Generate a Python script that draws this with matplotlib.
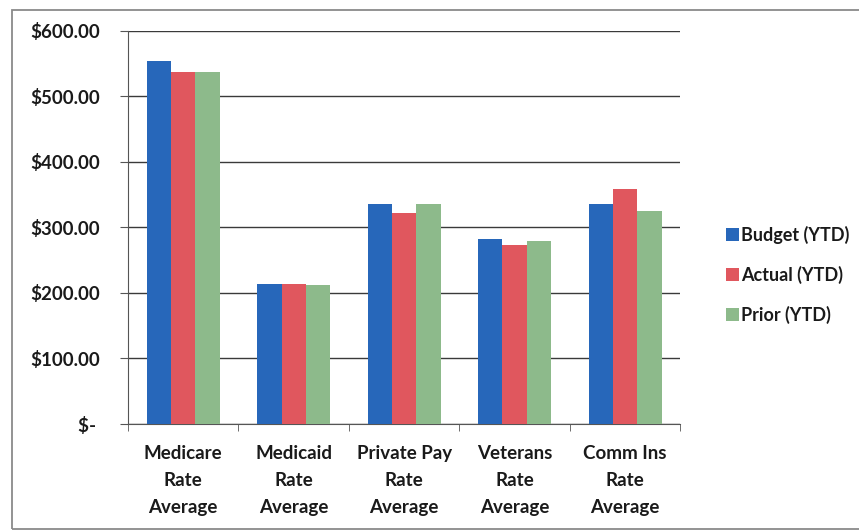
import numpy as np
import matplotlib
matplotlib.use("Agg")
import matplotlib.pyplot as plt
from matplotlib.ticker import FuncFormatter, FixedLocator
from matplotlib.patches import Rectangle

categories = ["Medicare\nRate\nAverage", "Medicaid\nRate\nAverage",
              "Private Pay\nRate\nAverage", "Veterans\nRate\nAverage",
              "Comm Ins\nRate\nAverage"]
series_names = ["Budget (YTD)", "Actual (YTD)", "Prior (YTD)"]
budget = [554, 213, 336, 283, 335]
actual = [537, 214, 322, 273, 359]
prior = [537, 212, 335, 280, 325]
colors = ["#2767BA", "#E0575E", "#8DBA8B"]

plt.rcParams['font.family'] = ['Lato', 'DejaVu Sans']
fs = 13.5

fig = plt.figure(figsize=(8.59, 5.32), dpi=100)
ax = fig.add_axes([0.149, 0.203, 0.643, 0.739])

x = np.arange(len(categories))
w = 0.22
for k, (vals, name) in enumerate(zip([budget, actual, prior], series_names)):
    ax.bar(x + (k - 1) * w, vals, width=w, color=colors[k], label=name, zorder=3)

ax.set_xlim(-0.5, len(categories) - 0.5)
ax.set_ylim(0, 600)
ax.set_yticks(np.arange(0, 601, 100))


def money(v, pos):
    if v == 0:
        return "$- "
    return "${:,.2f}".format(v)


ax.yaxis.set_major_formatter(FuncFormatter(money))
ax.yaxis.grid(True, color="#3a3a3a", lw=1.0, zorder=0)
ax.set_xticks(x)
ax.set_xticklabels(categories, linespacing=1.72)
ax.xaxis.set_minor_locator(FixedLocator(np.arange(-0.5, len(categories), 1)))
ax.tick_params(axis='x', which='major', length=0, pad=15)
ax.tick_params(axis='x', which='minor', length=5, color="#555555")
ax.tick_params(axis='y', length=6, color="#555555", pad=14)
for lab in ax.get_xticklabels() + ax.get_yticklabels():
    lab.set_fontsize(fs)
    lab.set_fontweight('bold')
    lab.set_color("#1a1a1a")

for side in ['top', 'right']:
    ax.spines[side].set_visible(False)
for side in ['left', 'bottom']:
    ax.spines[side].set_color("#555555")

leg = fig.legend(loc='upper left', bbox_to_anchor=(0.826, 0.606), frameon=False,
                 prop={'size': 13, 'weight': 'bold'}, handlelength=0.72,
                 handleheight=0.72, handletextpad=0.15, labelspacing=1.2)
for t in leg.get_texts():
    t.set_color("#1a1a1a")

# outer chart border (right edge runs off the picture in the reference)
fig.patches.append(Rectangle((0.014, 0.006), 1.0, 0.975, transform=fig.transFigure,
                             fill=False, edgecolor="#8a8a8a", lw=1.3))

fig.savefig("out.png", dpi=100)
